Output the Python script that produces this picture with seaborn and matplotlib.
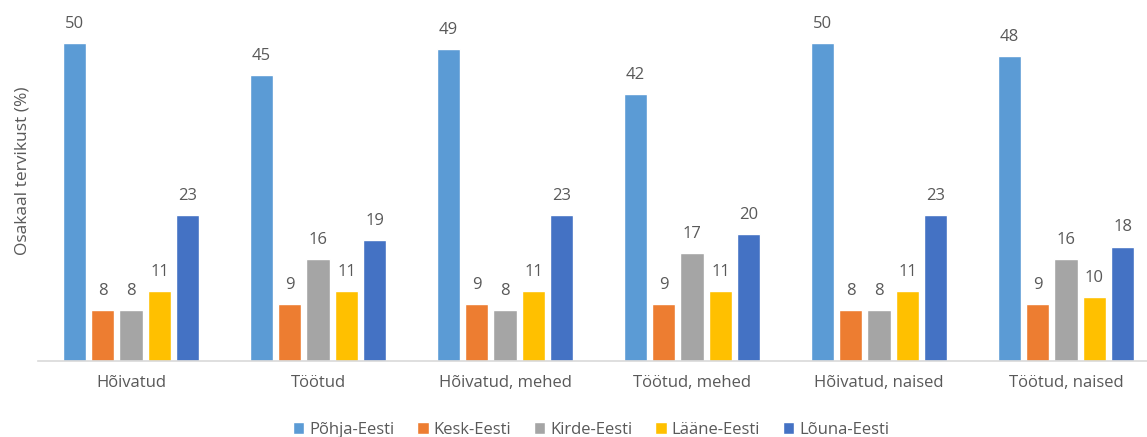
import matplotlib
matplotlib.use("Agg")
import matplotlib.pyplot as plt
import seaborn as sns
import pandas as pd

groups = ["Hõivatud", "Töötud", "Hõivatud, mehed", "Töötud, mehed",
          "Hõivatud, naised", "Töötud, naised"]
regions = ["Põhja-Eesti", "Kesk-Eesti", "Kirde-Eesti", "Lääne-Eesti", "Lõuna-Eesti"]
pohja = [50, 45, 49, 42, 50, 48]
kesk = [8, 9, 9, 9, 8, 9]
kirde = [8, 16, 8, 17, 8, 16]
laane = [11, 11, 11, 11, 11, 10]
louna = [23, 19, 23, 20, 23, 18]
colors = ["#5B9BD5", "#ED7D31", "#A5A5A5", "#FFC000", "#4472C4"]

rows = []
for reg, vals in zip(regions, [pohja, kesk, kirde, laane, louna]):
    for g, v in zip(groups, vals):
        rows.append({"grupp": g, "piirkond": reg, "osakaal": v})
df = pd.DataFrame(rows)

sns.set_theme(style="white")
plt.rcParams["font.family"] = ["Open Sans", "DejaVu Sans"]
text_col = "#595959"
fs = 12

W, H = 1147, 437
fig = plt.figure(figsize=(W / 100, H / 100), dpi=100)
px_per_unit = 318 / 50
ymax = 55
ax = fig.add_axes([37.5 / W, (H - 361) / H, (1159.5 - 37.5) / W, ymax * px_per_unit / H])

sns.barplot(data=df, x="grupp", y="osakaal", hue="piirkond", order=groups,
            hue_order=regions, palette=colors, width=0.76, gap=0.19,
            saturation=1, ax=ax, legend=True)

for cont in ax.containers:
    ax.bar_label(cont, fmt="%d", padding=8, fontsize=fs, color=text_col)

ax.set_xlim(-0.5, 5.5)
ax.set_ylim(0, ymax)
ax.set_yticks([])
ax.set_xlabel("")
ax.set_ylabel("Osakaal tervikust (%)", fontsize=12.5, color=text_col)
ax.yaxis.set_label_coords(-0.006, 0.543)
ax.tick_params(axis="x", length=0, pad=10, labelsize=fs, labelcolor=text_col)
for s in ["top", "right", "left"]:
    ax.spines[s].set_visible(False)
ax.spines["bottom"].set_color("#D9D9D9")
ax.spines["bottom"].set_linewidth(1.2)

leg = ax.legend(loc="center", bbox_to_anchor=(591 / W, 7 / H), bbox_transform=fig.transFigure,
                ncol=5, frameon=False, fontsize=fs, handlelength=0.7, handleheight=0.7,
                handletextpad=0.3, columnspacing=1.35, borderaxespad=0, borderpad=0)
for t in leg.get_texts():
    t.set_color(text_col)

fig.savefig("out.png", dpi=100)
